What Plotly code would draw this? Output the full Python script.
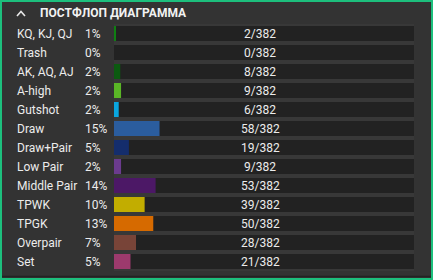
import plotly.graph_objects as go

categories = ["KQ, KJ, QJ", "Trash", "AK, AQ, AJ", "A-high", "Gutshot", "Draw", "Draw+Pair",
              "Low Pair", "Middle Pair", "TPWK", "TPGK", "Overpair", "Set"]
counts = [2, 0, 8, 9, 6, 58, 19, 9, 53, 39, 50, 28, 21]
percents = ["1%", "0%", "2%", "2%", "2%", "15%", "5%", "2%", "14%", "10%", "13%", "7%", "5%"]
total = 382
colors = ["#0f7f12", "#3a3a3a", "#0b5a10", "#5ab526", "#0aa6df", "#2b5d9e", "#142d6c",
          "#6b3b8e", "#4c1866", "#c2ad00", "#d66a00", "#784438", "#9d3a6d"]
title = "ПОСТФЛОП ДИАГРАММА"

W, H = 433, 280
L, R, T, B = 114, 19, 24, 9
PW, PH = W - L - R, H - T - B

def px(x):
    return (x - L) / PW

def py(y):
    return 1 - (y - T) / PH

ypos = list(range(len(categories)))

fig = go.Figure()
fig.add_trace(go.Bar(x=[total] * len(categories), y=ypos, orientation="h", width=1.0,
                     marker=dict(color="#383838", line=dict(width=0)), hoverinfo="skip"))
fig.add_trace(go.Bar(x=[total] * len(categories), y=ypos, orientation="h", width=0.79,
                     marker=dict(color="#222222", line=dict(width=0)), hoverinfo="skip"))
fig.add_trace(go.Bar(x=counts, y=ypos, orientation="h", width=0.79,
                     marker=dict(color=colors, line=dict(width=0)), hoverinfo="skip"))

ann = []
font = dict(family="Roboto", size=12, color="#ececec")
for i, (c, p, n) in enumerate(zip(categories, percents, counts)):
    ann.append(dict(x=px(15), y=i, xref="paper", yref="y", text=c, showarrow=False,
                    xanchor="left", yanchor="middle", font=font))
    ann.append(dict(x=px(83), y=i, xref="paper", yref="y", text=p, showarrow=False,
                    xanchor="left", yanchor="middle", font=font))
    ann.append(dict(x=px(260), y=i, xref="paper", yref="y", text=f"{n}/{total}", showarrow=False,
                    xanchor="center", yanchor="middle", font=font))
ann.append(dict(x=px(38), y=py(13), xref="paper", yref="paper", text=f"<b>{title}</b>",
                showarrow=False, xanchor="left", yanchor="middle",
                font=dict(family="Roboto", size=12, color="#f2f2f2")))

shapes = [
    dict(type="rect", xref="paper", yref="paper", x0=px(1), x1=px(W - 1), y0=py(H - 1), y1=py(1),
         line=dict(color="#1dbf7d", width=2), fillcolor="rgba(0,0,0,0)", layer="below"),
    dict(type="line", xref="paper", yref="paper", x0=px(2), x1=px(W - 2), y0=py(276.5), y1=py(276.5),
         line=dict(color="#232323", width=1.5)),
    dict(type="path", xref="paper", yref="paper",
         path=f"M {px(17)} {py(16)} L {px(21)} {py(11.5)} L {px(25)} {py(16)}",
         line=dict(color="#e8e8e8", width=1.6)),
]

fig.update_layout(
    width=W, height=H, margin=dict(l=L, r=R, t=T, b=B),
    paper_bgcolor="#333333", plot_bgcolor="#333333",
    barmode="overlay", showlegend=False,
    xaxis=dict(range=[0, total], visible=False, fixedrange=True),
    yaxis=dict(range=[len(categories) - 0.5, -0.5], visible=False, fixedrange=True),
    annotations=ann, shapes=shapes,
)
fig.write_html("out.html", config={"displayModeBar": False})
